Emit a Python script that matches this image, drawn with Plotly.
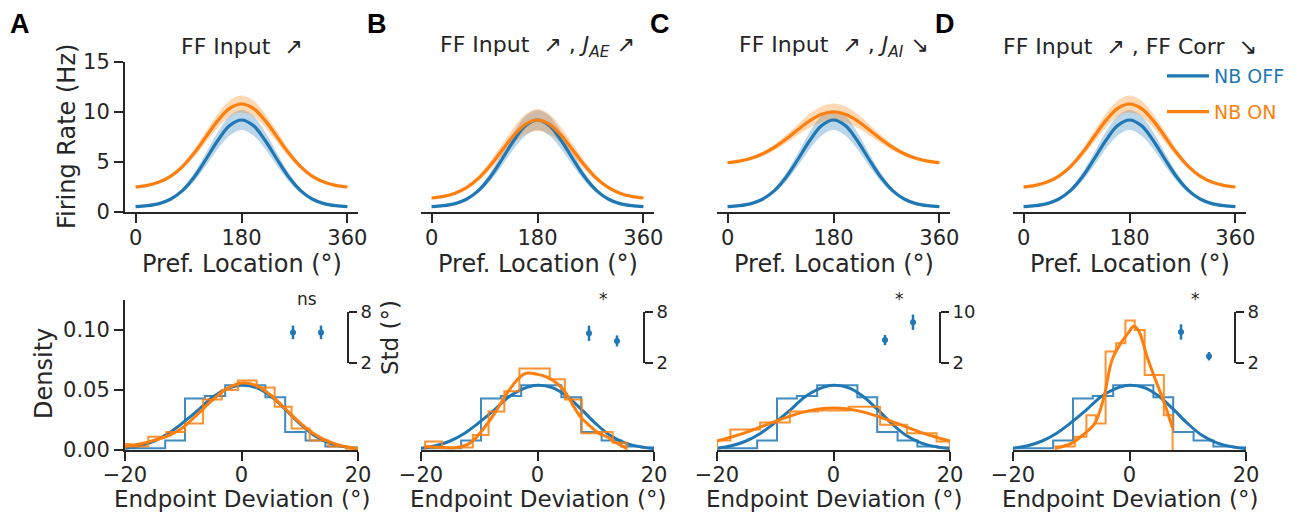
import plotly.graph_objects as go

W, H = 1297, 513
C0 = '#1f77b4'
C1 = '#ff7f0e'
INK = '#262626'
FONT = 'DejaVu Sans'

# ---------------- top row: tuning curves ----------------
pref_loc = [0, 20, 40, 60, 80, 100, 120, 140, 160, 180, 200, 220, 240, 260, 280, 300, 320, 340, 360]
rate_off = [0.54, 0.63, 0.84, 1.30, 2.16, 3.52, 5.30, 7.18, 8.64, 9.2, 8.64, 7.18, 5.30, 3.52, 2.16, 1.30, 0.84, 0.63, 0.54]
rate_off_sem = [0.05, 0.06, 0.08, 0.13, 0.24, 0.42, 0.65, 0.85, 0.98, 1.0, 0.98, 0.85, 0.65, 0.42, 0.24, 0.13, 0.08, 0.06, 0.05]
rate_on_A = [2.5, 2.66, 2.99, 3.59, 4.56, 5.92, 7.55, 9.16, 10.36, 10.8, 10.36, 9.16, 7.55, 5.92, 4.56, 3.59, 2.99, 2.66, 2.5]
rate_on_A_sem = [0.1, 0.1, 0.12, 0.17, 0.25, 0.38, 0.55, 0.7, 0.8, 0.85, 0.8, 0.7, 0.55, 0.38, 0.25, 0.17, 0.12, 0.1, 0.1]
rate_on_B = [1.4, 1.56, 1.88, 2.46, 3.38, 4.67, 6.19, 7.68, 8.79, 9.2, 8.79, 7.68, 6.19, 4.67, 3.38, 2.46, 1.88, 1.56, 1.4]
rate_on_B_sem = [0.08, 0.1, 0.13, 0.18, 0.28, 0.42, 0.6, 0.8, 1.0, 1.1, 1.0, 0.8, 0.6, 0.42, 0.28, 0.18, 0.13, 0.1, 0.08]
rate_on_C = [4.93, 5.09, 5.37, 5.82, 6.48, 7.32, 8.26, 9.14, 9.77, 10.0, 9.77, 9.14, 8.26, 7.32, 6.48, 5.82, 5.37, 5.09, 4.93]
rate_on_C_sem = [0.12, 0.13, 0.16, 0.22, 0.3, 0.42, 0.55, 0.7, 0.8, 0.85, 0.8, 0.7, 0.55, 0.42, 0.3, 0.22, 0.16, 0.13, 0.12]
rate_on_D = [2.5, 2.66, 2.99, 3.59, 4.56, 5.92, 7.55, 9.16, 10.36, 10.8, 10.36, 9.16, 7.55, 5.92, 4.56, 3.59, 2.99, 2.66, 2.5]
rate_on_D_sem = [0.1, 0.1, 0.12, 0.17, 0.25, 0.38, 0.55, 0.7, 0.8, 0.85, 0.8, 0.7, 0.55, 0.38, 0.25, 0.17, 0.12, 0.1, 0.1]

# ---------------- bottom row: endpoint deviation histograms ----------------
hist_off_edges = [-20, -16.3, -13.1, -9.7, -6.3, -2.8, 0.6, 4.1, 7.5, 11.0, 14.4, 17.9, 20]
hist_off_dens = [0.0015, 0.0014, 0.008, 0.043, 0.045, 0.054, 0.054, 0.044, 0.015, 0.008, 0.003, 0.002]
hist_on_A_edges = [-20, -19.1, -16.0, -12.9, -9.7, -6.6, -3.4, -0.6, 2.6, 5.7, 8.6, 11.7, 14.9, 18.0, 20]
hist_on_A_dens = [0.005, 0.003, 0.011, 0.015, 0.022, 0.042, 0.050, 0.058, 0.052, 0.036, 0.018, 0.008, 0.003, 0.001]
hist_on_B_edges = [-19.3, -16.4, -13.7, -11.1, -8.4, -5.7, -3.1, -0.5, 2.1, 4.7, 7.6, 10.1, 12.9, 15.3]
hist_on_B_dens = [0.007, 0.002, 0.002, 0.0125, 0.032, 0.049, 0.068, 0.068, 0.059, 0.042, 0.014, 0.015, 0.006]
hist_on_C_edges = [-20, -17.7, -12.6, -7.5, -2.6, 2.6, 8.0, 12.6, 17.7, 20]
hist_on_C_dens = [0.008, 0.017, 0.023, 0.032, 0.033, 0.036, 0.021, 0.014, 0.007]
hist_on_D_edges = [-12.7, -11.1, -9.4, -7.4, -5.8, -4.1, -2.3, -0.7, 0.9, 2.6, 4.1, 5.9, 7.4]
hist_on_D_dens = [0.003, 0.003, 0.011, 0.029, 0.022, 0.082, 0.089, 0.108, 0.100, 0.0625, 0.0625, 0.029]

dev_grid = [-20, -17.5, -15, -12.5, -10, -7.5, -5, -2.5, 0, 2.5, 5, 7.5, 10, 12.5, 15, 17.5, 20]
fit_off = [0.0015, 0.0035, 0.0075, 0.014, 0.023, 0.033, 0.044, 0.051, 0.054, 0.052, 0.045, 0.034, 0.022, 0.012, 0.006, 0.0028, 0.0012]
fit_on_A = [0.003, 0.005, 0.008, 0.012, 0.019, 0.030, 0.0415, 0.0512, 0.0559, 0.0538, 0.0458, 0.0344, 0.0229, 0.0134, 0.007, 0.0032, 0.0013]
fit_on_B_x = [-19.3, -16, -13.9, -11.5, -9.9, -7.3, -5, -3, -1.9, 0, 1.5, 2.7, 4.5, 6, 7.3, 9, 10.5, 11.9, 13.5, 15.3]
fit_on_B = [0.003, 0.002, 0.002, 0.006, 0.014, 0.031, 0.049, 0.061, 0.064, 0.063, 0.061, 0.058, 0.050, 0.038, 0.028, 0.020, 0.014, 0.011, 0.006, 0.0014]
fit_on_C = [0.0075, 0.0108, 0.0147, 0.0192, 0.0238, 0.0282, 0.0318, 0.0342, 0.035, 0.0342, 0.0318, 0.0282, 0.0238, 0.0192, 0.0147, 0.0108, 0.0075]
fit_on_D_x = [-12.7, -10, -8, -6, -4.5, -3, -1.5, 0, 0.6, 1.5, 3, 4.5, 6, 7.4]
fit_on_D = [0.0014, 0.0055, 0.0125, 0.022, 0.042, 0.075, 0.089, 0.099, 0.103, 0.100, 0.078, 0.058, 0.039, 0.018]

# ---------------- insets: std of endpoint deviation ----------------
std_cond = [0, 1]
std_A = [5.6, 5.6]
std_A_err = [0.8, 0.8]
std_B = [5.5, 4.6]
std_B_err = [0.9, 0.65]
std_C = [5.6, 8.4]
std_C_err = [0.8, 1.2]
std_D = [5.65, 2.8]
std_D_err = [0.9, 0.5]
std_ticks_A = [2, 8]
std_ticks_B = [2, 8]
std_ticks_C = [2, 10]
std_ticks_D = [2, 8]
sig_labels = ['ns', '*', '*', '*']

panel_letters = ['A', 'B', 'C', 'D']
panel_titles = [
    'FF Input  \u2197',
    'FF Input  \u2197 , <i>J<sub>AE</sub></i> \u2197',
    'FF Input  \u2197 , <i>J<sub>AI</sub></i> \u2198',
    'FF Input  \u2197 , FF Corr  \u2198',
]

rate_on = [rate_on_A, rate_on_B, rate_on_C, rate_on_D]
rate_on_sem = [rate_on_A_sem, rate_on_B_sem, rate_on_C_sem, rate_on_D_sem]
hist_on = [(hist_on_A_edges, hist_on_A_dens), (hist_on_B_edges, hist_on_B_dens),
           (hist_on_C_edges, hist_on_C_dens), (hist_on_D_edges, hist_on_D_dens)]
fits_on = [(dev_grid, fit_on_A), (fit_on_B_x, fit_on_B), (dev_grid, fit_on_C), (fit_on_D_x, fit_on_D)]
stds = [(std_A, std_A_err, std_ticks_A), (std_B, std_B_err, std_ticks_B),
        (std_C, std_C_err, std_ticks_C), (std_D, std_D_err, std_ticks_D)]


def px_x(p):
    return p / W


def px_y(p):
    return 1 - p / H


def rgba(hexc, a):
    h = hexc.lstrip('#')
    return 'rgba(%d,%d,%d,%.2f)' % (int(h[0:2], 16), int(h[2:4], 16), int(h[4:6], 16), a)


def step_xy(edges, dens):
    xs = [edges[0]] + list(edges)
    ys = [0] + list(dens) + [0]
    return xs, ys


fig = go.Figure()
layout = dict()

col_left = [125, 421, 717, 1013]
col_w = 233
inset_left = [279, 575, 871, 1167]
inset_w = 56
inset_spine = [348, 644, 940, 1235]

axis_common = dict(showgrid=False, zeroline=False, showline=True, linewidth=2, linecolor=INK,
                   ticks='outside', ticklen=9, tickwidth=2, tickcolor=INK,
                   tickfont=dict(size=21, color=INK, family=FONT), automargin=False)

for i in range(4):
    xt, yt = 'x%d' % (i + 1), 'y%d' % (i + 1)
    xb, yb = 'x%d' % (i + 5), 'y%d' % (i + 5)
    xi, yi = 'x%d' % (i + 9), 'y%d' % (i + 9)

    # --- top: tuning curves ---
    lo_off = [m - s for m, s in zip(rate_off, rate_off_sem)]
    hi_off = [m + s for m, s in zip(rate_off, rate_off_sem)]
    lo_on = [m - s for m, s in zip(rate_on[i], rate_on_sem[i])]
    hi_on = [m + s for m, s in zip(rate_on[i], rate_on_sem[i])]
    for lo, hi, c in [(lo_off, hi_off, C0), (lo_on, hi_on, C1)]:
        fig.add_trace(go.Scatter(x=pref_loc, y=lo, mode='lines', line=dict(width=0, shape='spline'),
                                 showlegend=False, hoverinfo='skip', xaxis=xt, yaxis=yt))
        fig.add_trace(go.Scatter(x=pref_loc, y=hi, mode='lines', line=dict(width=0, shape='spline'),
                                 fill='tonexty', fillcolor=rgba(c, 0.3),
                                 showlegend=False, hoverinfo='skip', xaxis=xt, yaxis=yt))
    fig.add_trace(go.Scatter(x=pref_loc, y=rate_off, mode='lines',
                             line=dict(color=C0, width=3.2, shape='spline'),
                             name="<span style='color:%s'>NB OFF</span>" % C0,
                             legendgroup='off', showlegend=(i == 3), xaxis=xt, yaxis=yt))
    fig.add_trace(go.Scatter(x=pref_loc, y=rate_on[i], mode='lines',
                             line=dict(color=C1, width=3.2, shape='spline'),
                             name="<span style='color:%s'>NB ON</span>" % C1,
                             legendgroup='on', showlegend=(i == 3), xaxis=xt, yaxis=yt))

    # --- bottom: histograms + density fits ---
    sx, sy = step_xy(hist_off_edges, hist_off_dens)
    fig.add_trace(go.Scatter(x=sx, y=sy, mode='lines', line=dict(color=C0, width=2, shape='hv'),
                             opacity=0.85, showlegend=False, xaxis=xb, yaxis=yb))
    fig.add_trace(go.Scatter(x=dev_grid, y=fit_off, mode='lines',
                             line=dict(color=C0, width=3, shape='spline'),
                             showlegend=False, xaxis=xb, yaxis=yb))
    sx, sy = step_xy(*hist_on[i])
    fig.add_trace(go.Scatter(x=sx, y=sy, mode='lines', line=dict(color=C1, width=2, shape='hv'),
                             opacity=0.85, showlegend=False, xaxis=xb, yaxis=yb))
    fig.add_trace(go.Scatter(x=fits_on[i][0], y=fits_on[i][1], mode='lines',
                             line=dict(color=C1, width=3, shape='spline'),
                             showlegend=False, xaxis=xb, yaxis=yb))

    # --- inset: std ---
    vals, errs, tks = stds[i]
    fig.add_trace(go.Scatter(x=std_cond, y=vals, mode='markers',
                             marker=dict(color=C0, size=6),
                             error_y=dict(type='data', array=errs, color=C0, thickness=2.5, width=0),
                             showlegend=False, cliponaxis=False, xaxis=xi, yaxis=yi))

    # axes
    n = i + 1
    layout['xaxis%d' % n] = dict(axis_common, domain=[px_x(col_left[i]), px_x(col_left[i] + col_w)],
                                 range=[-18, 378], tickvals=[0, 180, 360], anchor=yt,
                                 ticklabelstandoff=-3)
    ytop = dict(axis_common, domain=[px_y(212), px_y(62)], range=[0, 15], tickvals=[0, 5, 10, 15], anchor=xt)
    if i > 0:
        ytop['visible'] = False
    layout['yaxis%d' % n] = ytop

    n = i + 5
    layout['xaxis%d' % n] = dict(axis_common, domain=[px_x(col_left[i]), px_x(col_left[i] + col_w)],
                                 range=[-20, 20], tickvals=[-20, 0, 20], anchor=yb,
                                 ticklabelstandoff=-4)
    ybot = dict(axis_common, domain=[px_y(450), px_y(300)], range=[0, 0.125], tickvals=[0, 0.05, 0.10],
                tickformat='.2f', anchor=xb)
    if i > 0:
        ybot['visible'] = False
    layout['yaxis%d' % n] = ybot

    n = i + 9
    layout['xaxis%d' % n] = dict(domain=[px_x(inset_left[i]), px_x(inset_left[i] + inset_w)],
                                 range=[-0.5, 1.5], visible=False, anchor=yi)
    layout['yaxis%d' % n] = dict(axis_common, domain=[px_y(363), px_y(312)], range=[tks[0], tks[1]],
                                 tickvals=tks, anchor='free', position=px_x(inset_spine[i]), side='right',
                                 ticklen=8, tickfont=dict(size=18, color=INK, family=FONT))

annotations = []
title_x = [c + col_w / 2 for c in col_left]
letter_x = [20, 377, 660, 945]


def ann(text, x, y, size=24, angle=0, yanchor='middle', **kw):
    d = dict(text=text, x=x, y=y, xref='paper', yref='paper', showarrow=False,
             xanchor='center', yanchor=yanchor, textangle=angle, borderpad=0,
             font=dict(size=size, color=kw.pop('color', INK), family=kw.pop('family', FONT)))
    d.update(kw)
    return d


for i in range(4):
    annotations.append(ann(panel_titles[i], px_x(title_x[i]), px_y(47), size=22))
    annotations.append(ann('<b>%s</b>' % panel_letters[i], px_x(letter_x[i]), px_y(24), size=27,
                           color='black', family='Liberation Sans'))
    annotations.append(dict(text=sig_labels[i], x=0.5, xref='x%d' % (i + 9), y=px_y(299), yref='paper',
                            showarrow=False, xanchor='center', yanchor='middle',
                            font=dict(size=17, color=INK, family=FONT)))
    annotations.append(ann('Pref. Location (°)', px_x(title_x[i]), px_y(264)))
    annotations.append(ann('Endpoint Deviation (°)', px_x(title_x[i]), px_y(513), size=23, yanchor='bottom'))

annotations.append(ann('Firing Rate (Hz)', px_x(67), px_y(137), angle=-90))
annotations.append(ann('Density', px_x(44), px_y(374), angle=-90))
annotations.append(ann('Std (°)', px_x(390), px_y(338), size=23, angle=-90))

fig.update_layout(
    width=W, height=H, margin=dict(l=0, r=0, t=0, b=0),
    paper_bgcolor='white', plot_bgcolor='rgba(0,0,0,0)',
    template='none',
    font=dict(family=FONT, color=INK),
    showlegend=True,
    legend=dict(x=px_x(1162), y=px_y(57), xanchor='left', yanchor='top',
                bgcolor='rgba(0,0,0,0)', font=dict(size=19, family=FONT),
                tracegroupgap=8, itemwidth=42),
    annotations=annotations,
    **layout
)

fig.write_html('out.html')
